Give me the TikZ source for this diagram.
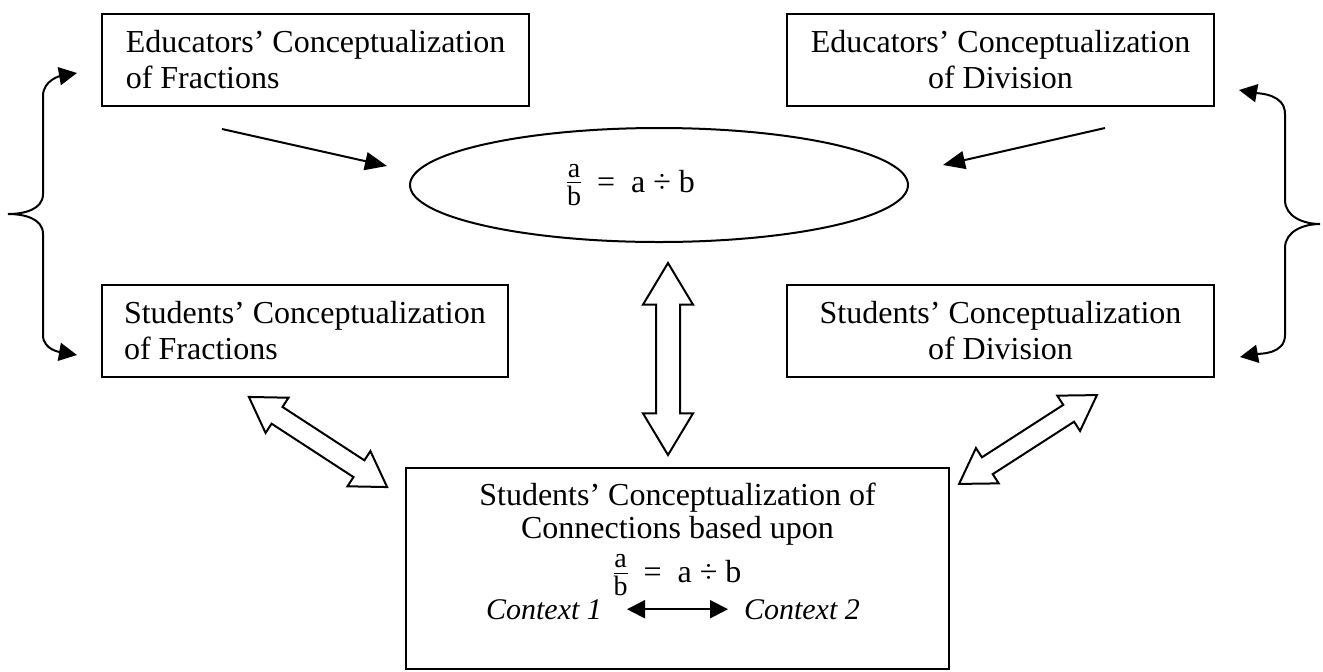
\documentclass[tikz,border=0pt]{standalone}
\usepackage{amsmath}
\usepackage{fontspec}
\setmainfont{Liberation Serif}
\usetikzlibrary{arrows.meta, positioning, shapes.geometric, shapes.arrows}

\newcommand{\fracab}{{\fontsize{14}{14}\selectfont\renewcommand{\arraystretch}{0.1}\setlength{\arrayrulewidth}{0.6pt}%
	\begin{tabular}{@{}c@{}}a\rule[-2.5pt]{0pt}{2.5pt}\\\hline\rule{0pt}{11pt}b\end{tabular}}}

\begin{document}
\begin{tikzpicture}[
	x=0.5pt, y=0.5pt,
	every node/.style={font=\fontsize{16}{18}\selectfont},
	leftbox/.style={draw, line width=1pt, anchor=north west, align=left, minimum height=46pt, inner xsep=11pt},
	rightbox/.style={draw, line width=1pt, anchor=north west, align=center, minimum width=213.5pt, minimum height=46pt},
	ratioellipse/.style={draw, ellipse, line width=1pt, minimum width=249pt, minimum height=57pt},
	connbox/.style={draw, line width=1pt, anchor=north west, minimum width=271.5pt, minimum height=100.5pt},
	context/.style={font=\fontsize{15}{18}\selectfont\itshape},
	arrow/.style={-{Triangle[length=11pt,width=9pt]}, line width=1pt},
	bracearrow/.style={{Triangle[length=9pt,width=9pt]}-{Triangle[length=9pt,width=9pt]}, line width=1pt},
	blockarrow/.style={draw, fill=white, double arrow, line width=1pt, inner xsep=0pt}
	]
	\useasboundingbox (0,0) rectangle (1323,-671);
	
	% Fractions side
	\node[leftbox, minimum width=213.5pt] (edfrac) at (101,-13) {Educators' Conceptualization\\of Fractions};
	\node[leftbox, below right=88.5pt and 0pt of edfrac.south west] (stfrac) {Students' Conceptualization\\of Fractions};
	
	% Division side
	\node[rightbox] (eddiv) at (786,-13) {Educators' Conceptualization\\of Division};
	\node[rightbox, below right=88.5pt and 0pt of eddiv.south west] (stdiv) {Students' Conceptualization\\of Division};
	
	% Central equality
	\node[ratioellipse] (ratio) at (659,-185) {};
	\node (ratiotext) at ([xshift=-14pt]ratio.center) {\fracab\enspace=\enspace a ÷ b};
	
	% Connections box
	\node[connbox] (conn) at (405,-467) {};
	\node[below=8pt of conn.north, inner sep=0pt, align=center, font=\fontsize{16}{16.5}\selectfont] (conntext)
	{Students' Conceptualization of\\Connections based upon};
	\node[below=4pt of conntext, inner sep=0pt] (connratio) {\fracab\enspace=\enspace a ÷ b};
	\node[context, anchor=base east] (ctxone) at (609,-619) {Context 1};
	\node[context, anchor=base west] (ctxtwo) at (737,-619) {Context 2};
	\draw[bracearrow, shorten <=9pt, shorten >=4.5pt] (ctxone) -- (ctxtwo);
	
	% Educators to equality
	\coordinate (fstart) at (222,-129);
	\coordinate (fend) at (387,-166);
	\coordinate (dstart) at (1105,-128);
	\coordinate (dend) at (943,-165);
	\draw[arrow] (fstart) -- (fend);
	\draw[arrow] (dstart) -- (dend);
	
	% Block arrows
	\node[blockarrow, rotate=90, minimum height=96pt, inner ysep=5.5pt,
		double arrow head extend=6.5pt, double arrow tip angle=62] (vlink) at (668,-359) {};
	\node[blockarrow, rotate=-33.1, minimum height=82.5pt, inner ysep=4.5pt,
		double arrow head extend=5.5pt, double arrow tip angle=64] (flink) at (318,-442) {};
	\node[blockarrow, rotate=32.8, minimum height=82pt, inner ysep=4.5pt,
		double arrow head extend=5.5pt, double arrow tip angle=64] (dlink) at (1028,-439.5) {};
	
	% Braces
	\coordinate (ltop) at (77,-73);
	\coordinate (lbot) at (77,-355);
	\coordinate (rtop) at (1239,-90);
	\coordinate (rbot) at (1240,-357);
	\draw[bracearrow] (lbot) to[out=170,in=-90] (43,-335) -- (43,-234) to[out=90,in=0] (8,-214)
		to[out=0,in=-90] (43,-194) -- (43,-96) to[out=90,in=190] (ltop);
	\draw[bracearrow] (rbot) to[out=10,in=-90] (1285,-335) -- (1285,-248) to[out=90,in=180] (1320,-224)
		to[out=180,in=-90] (1285,-200) -- (1285,-114) to[out=90,in=-10] (rtop);
	
\end{tikzpicture}
\end{document}
